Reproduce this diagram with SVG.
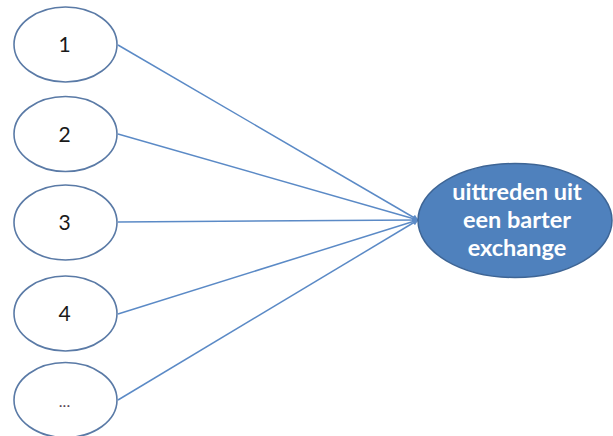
<svg xmlns="http://www.w3.org/2000/svg" width="613" height="436" viewBox="0 0 613 436">
  <style>
    .src ellipse { fill: #ffffff; stroke: #5a7aa6; stroke-width: 1.6; }
    .src text { font-family: "Lato", "Liberation Sans", sans-serif; font-size: 21px; fill: #1a1a1a; text-anchor: middle; }
    .edge { stroke: #5b8ac6; stroke-width: 1.5; fill: none; marker-end: url(#arrow); }
    .goal text { font-family: "Lato", "Liberation Sans", sans-serif; font-size: 23.5px; font-weight: bold; fill: #ffffff; text-anchor: middle; }
  </style>
  <defs>
    <marker id="arrow" viewBox="0 0 10 10" refX="9" refY="5" markerWidth="6" markerHeight="6" orient="auto" markerUnits="userSpaceOnUse">
      <path d="M0,0 L10,5 L0,10 z" fill="#5b8ac6"/>
    </marker>
  </defs>
  <rect width="613" height="436" fill="#ffffff"/>

  <g id="connectors">
    <line class="edge" x1="118" y1="45" x2="418" y2="220"/>
    <line class="edge" x1="118" y1="134" x2="418" y2="220"/>
    <line class="edge" x1="118" y1="222" x2="418" y2="220"/>
    <line class="edge" x1="118" y1="314" x2="418" y2="220"/>
    <line class="edge" x1="118" y1="400" x2="418" y2="220"/>
  </g>

  <g id="node1" class="src">
    <ellipse cx="65.5" cy="44.5" rx="51.5" ry="37.5"/>
    <text x="64.5" y="52">1</text>
  </g>
  <g id="node2" class="src">
    <ellipse cx="65.5" cy="134" rx="51.5" ry="37.5"/>
    <text x="64.5" y="141.5">2</text>
  </g>
  <g id="node3" class="src">
    <ellipse cx="65.5" cy="222.5" rx="51.5" ry="37.5"/>
    <text x="64.5" y="230">3</text>
  </g>
  <g id="node4" class="src">
    <ellipse cx="65.5" cy="313.5" rx="51.5" ry="37.5"/>
    <text x="64.5" y="321">4</text>
  </g>
  <g id="node5" class="src">
    <ellipse cx="65.5" cy="400" rx="51.5" ry="37.5"/>
    <text x="64.5" y="407" style="font-size:16px; fill:#5a4a55">...</text>
  </g>

  <g id="goal" class="goal">
    <ellipse cx="515" cy="220.5" rx="97" ry="57" fill="#4f81bd" stroke="#3e6595" stroke-width="1.5"/>
    <text x="517" y="200">uittreden uit</text>
    <text x="517" y="228">een barter</text>
    <text x="517" y="256">exchange</text>
  </g>
</svg>
